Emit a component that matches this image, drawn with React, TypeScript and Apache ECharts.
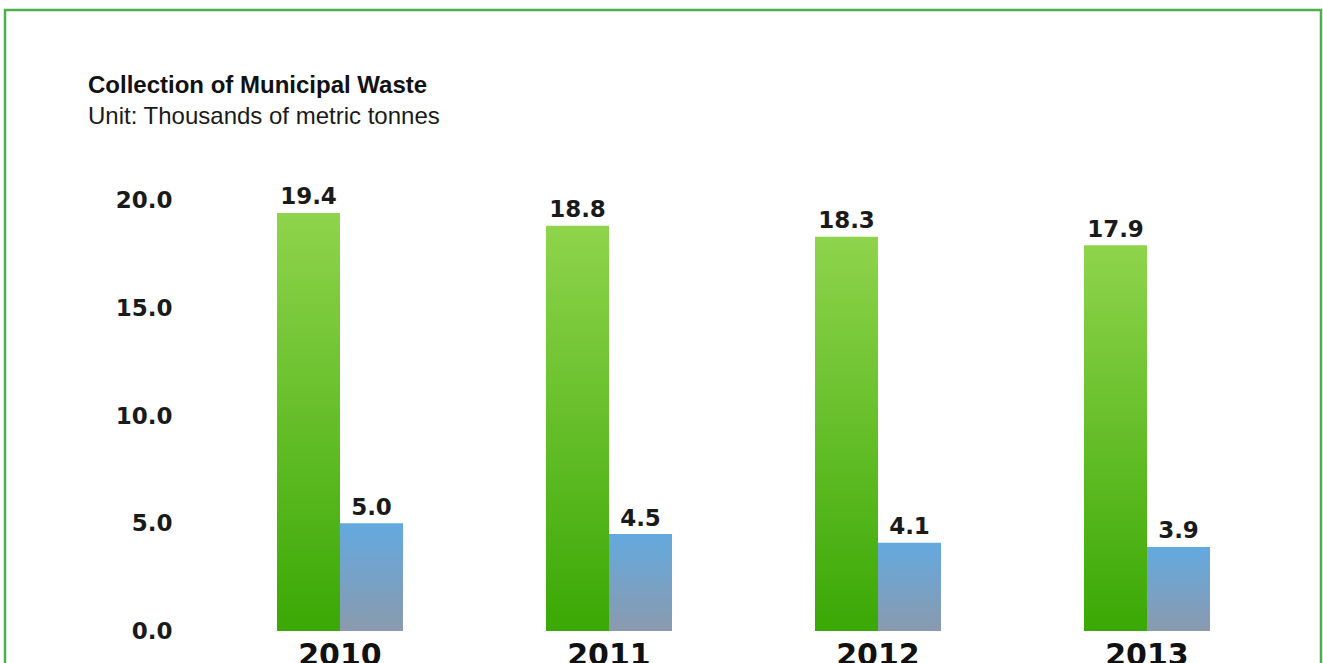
import React, { useEffect, useRef } from "react";
import * as echarts from "echarts";

const years = ["2010", "2011", "2012", "2013"];
const greenValues = [19.4, 18.8, 18.3, 17.9];
const blueValues = [5.0, 4.5, 4.1, 3.9];
const titleText = "Collection of Municipal Waste";
const unitText = "Unit: Thousands of metric tonnes";

export default function App() {
  const ref = useRef<HTMLDivElement>(null);
  useEffect(() => {
    if (!ref.current) return;
    const chart = echarts.init(ref.current, null, { renderer: "svg" });
    const labelStyle = {
      show: true,
      position: "top" as const,
      distance: 5,
      color: "#1a1a1a",
      fontFamily: "DejaVu Sans",
      fontWeight: "bold" as const,
      fontSize: 23,
      formatter: (p: any) => Number(p.value).toFixed(1),
    };
    chart.setOption({
      animation: false,
      backgroundColor: "#ffffff",
      graphic: [
        {
          type: "rect",
          shape: { x: 5, y: 10, width: 1316, height: 700 },
          style: { fill: "none", stroke: "#4caf50", lineWidth: 2.5 },
          silent: true,
        },
        {
          type: "text",
          left: 88,
          top: 72,
          style: {
            text: titleText,
            fill: "#111111",
            fontFamily: "Liberation Sans",
            fontWeight: "bold",
            fontSize: 24,
          },
        },
        {
          type: "text",
          left: 88,
          top: 103,
          style: {
            text: unitText,
            fill: "#1a1a1a",
            fontFamily: "Liberation Sans",
            fontSize: 24,
          },
        },
      ],
      grid: {
        left: 205.5,
        right: 41.5,
        top: 200,
        bottom: 32,
        containLabel: false,
        outerBoundsMode: "none",
      },
      xAxis: {
        type: "category",
        data: years,
        axisLine: { show: false },
        axisTick: { show: false },
        axisLabel: {
          margin: 8,
          color: "#111111",
          fontFamily: "DejaVu Sans",
          fontWeight: "bold",
          fontSize: 30,
        },
      },
      yAxis: {
        type: "value",
        min: 0,
        max: 20,
        interval: 5,
        splitLine: { show: false },
        axisLine: { show: false },
        axisTick: { show: false },
        axisLabel: {
          margin: 33,
          color: "#1a1a1a",
          fontFamily: "DejaVu Sans",
          fontWeight: "bold",
          fontSize: 23,
          formatter: (v: number) => v.toFixed(1),
        },
      },
      series: [
        {
          type: "bar",
          data: greenValues,
          barWidth: 63,
          barGap: "0%",
          itemStyle: {
            color: new echarts.graphic.LinearGradient(0, 0, 0, 1, [
              { offset: 0, color: "#8fd44c" },
              { offset: 1, color: "#3aa805" },
            ]),
          },
          label: labelStyle,
        },
        {
          type: "bar",
          data: blueValues,
          barWidth: 63,
          itemStyle: {
            color: new echarts.graphic.LinearGradient(0, 0, 0, 1, [
              { offset: 0, color: "#63a9df" },
              { offset: 1, color: "#8a9aae" },
            ]),
          },
          label: labelStyle,
        },
      ],
    });
    return () => chart.dispose();
  }, []);
  return (
    <div
      ref={ref}
      style={{ position: "absolute", left: 0, top: 0, width: 1323, height: 663 }}
    />
  );
}
